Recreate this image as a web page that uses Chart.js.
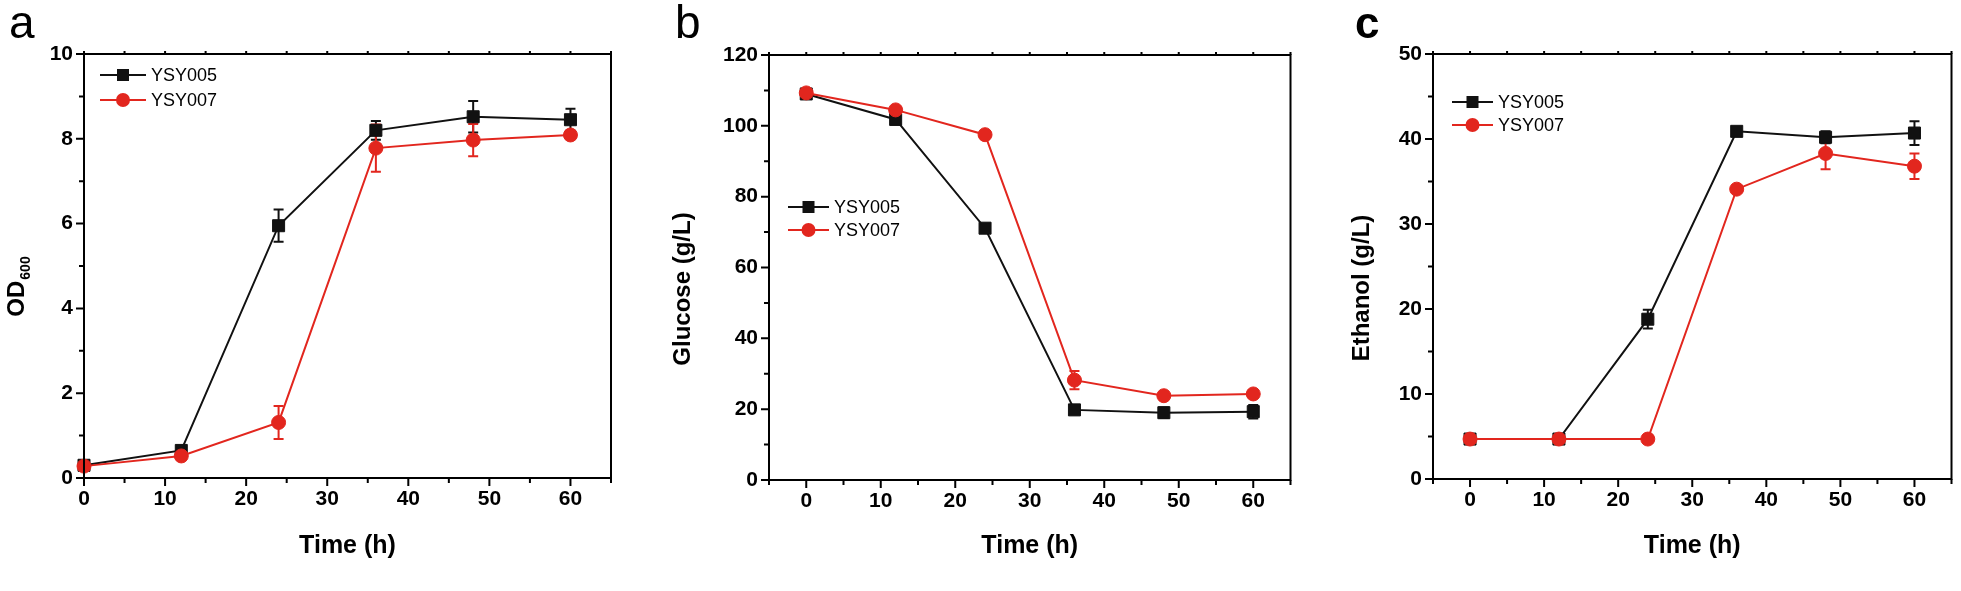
<!DOCTYPE html>
<html>
<head>
<meta charset="utf-8">
<script src="https://cdn.jsdelivr.net/npm/chart.js@4.4.0/dist/chart.umd.min.js"></script>
<style>
  html, body { margin: 0; padding: 0; background: #fff; }
  #wrap { position: relative; width: 1961px; height: 591px; overflow: hidden; }
  canvas { position: absolute; top: 0; }
</style>
</head>
<body>
<div id="wrap">
  <canvas id="chartA" width="640" height="591" style="left:0px"></canvas>
  <canvas id="chartB" width="660" height="591" style="left:640px"></canvas>
  <canvas id="chartC" width="661" height="591" style="left:1300px"></canvas>
</div>
<script>
const timeH = [0, 12, 24, 36, 48, 60];
const strainNames = ['YSY005', 'YSY007'];

// OD600
const od005 = [0.30, 0.65, 5.95, 8.20, 8.52, 8.45];
const od005Err = [0.05, 0.05, 0.38, 0.22, 0.37, 0.26];
const od007 = [0.28, 0.52, 1.31, 7.78, 7.97, 8.09];
const od007Err = [0.05, 0.05, 0.39, 0.56, 0.38, 0.10];

// glucose g/L
const glc005 = [109.0, 101.8, 71.1, 19.8, 19.0, 19.3];
const glc005Err = [0.8, 0.8, 0.8, 0.8, 1.5, 1.9];
const glc007 = [109.3, 104.5, 97.5, 28.2, 23.8, 24.3];
const glc007Err = [0.8, 0.8, 0.8, 2.6, 1.0, 1.0];

// ethanol g/L
const eth005 = [4.7, 4.7, 18.8, 40.9, 40.2, 40.7];
const eth005Err = [0.2, 0.2, 1.1, 0.3, 0.7, 1.4];
const eth007 = [4.7, 4.7, 4.7, 34.1, 38.3, 36.8];
const eth007Err = [0.2, 0.2, 0.2, 0.3, 1.85, 1.5];

const xMajor = [0, 10, 20, 30, 40, 50, 60];
const xMinor = [-5, 5, 15, 25, 35, 45, 55, 65];
const odMajor = [0, 2, 4, 6, 8, 10];
const odMinor = [1, 3, 5, 7, 9];
const glcMajor = [0, 20, 40, 60, 80, 100, 120];
const glcMinor = [10, 30, 50, 70, 90, 110];
const ethMajor = [0, 10, 20, 30, 40, 50];
const ethMinor = [5, 15, 25, 35, 45];

const BLACK = '#111111';
const RED = '#e2261e';
const FONT = "'Liberation Sans', Arial, Helvetica, sans-serif";

// error bars under the markers, frame/ticks/titles/legend on top
const originStyle = {
  id: 'originStyle',
  beforeDatasetsDraw(chart) {
    const ctx = chart.ctx, xs = chart.scales.x, ys = chart.scales.y;
    chart.data.datasets.forEach(ds => {
      if (!ds.errors) return;
      ctx.save();
      ctx.strokeStyle = ds.borderColor;
      ctx.lineWidth = 2;
      ds.data.forEach((p, i) => {
        const e = ds.errors[i];
        if (!e) return;
        const px = xs.getPixelForValue(p.x);
        const top = ys.getPixelForValue(p.y + e), bot = ys.getPixelForValue(p.y - e);
        ctx.beginPath();
        ctx.moveTo(px, top); ctx.lineTo(px, bot);
        ctx.moveTo(px - 5, top); ctx.lineTo(px + 5, top);
        ctx.moveTo(px - 5, bot); ctx.lineTo(px + 5, bot);
        ctx.stroke();
      });
      ctx.restore();
    });
  },
  afterDraw(chart, args, opts) {
    const ctx = chart.ctx, a = chart.chartArea, xs = chart.scales.x, ys = chart.scales.y;
    ctx.save();
    ctx.strokeStyle = '#000';
    ctx.lineWidth = 2;
    ctx.strokeRect(a.left, a.top, a.right - a.left, a.bottom - a.top);
    ctx.beginPath();
    const inX = v => v >= xs.min && v <= xs.max;
    const inY = v => v >= ys.min && v <= ys.max;
    opts.xMajor.filter(inX).forEach(v => {
      const px = xs.getPixelForValue(v);
      ctx.moveTo(px, a.bottom); ctx.lineTo(px, a.bottom + 8);
      ctx.moveTo(px, a.top); ctx.lineTo(px, a.top - 3);
    });
    opts.xMinor.filter(inX).forEach(v => {
      const px = xs.getPixelForValue(v);
      ctx.moveTo(px, a.bottom); ctx.lineTo(px, a.bottom + 5);
      ctx.moveTo(px, a.top); ctx.lineTo(px, a.top - 3);
    });
    opts.yMajor.filter(inY).forEach(v => {
      const py = ys.getPixelForValue(v);
      ctx.moveTo(a.left, py); ctx.lineTo(a.left - 8, py);
    });
    opts.yMinor.filter(inY).forEach(v => {
      const py = ys.getPixelForValue(v);
      ctx.moveTo(a.left, py); ctx.lineTo(a.left - 5, py);
    });
    ctx.stroke();

    // y title (rotated), optional subscript
    const t = opts.yTitle;
    ctx.fillStyle = '#000';
    ctx.translate(t.x, t.y);
    ctx.rotate(-Math.PI / 2);
    ctx.textBaseline = 'middle';
    ctx.textAlign = 'left';
    ctx.font = 'bold 24px ' + FONT;
    const w1 = ctx.measureText(t.text).width;
    let w2 = 0;
    if (t.sub) { ctx.font = 'bold 14px ' + FONT; w2 = ctx.measureText(t.sub).width; }
    const start = -(w1 + w2) / 2;
    ctx.font = 'bold 24px ' + FONT;
    ctx.fillText(t.text, start, 0);
    if (t.sub) { ctx.font = 'bold 14px ' + FONT; ctx.fillText(t.sub, start + w1 + 1, 9); }
    ctx.setTransform(1, 0, 0, 1, 0, 0);

    // legend: line + marker + name
    const lg = opts.legend;
    [chart.data.datasets[0], chart.data.datasets[1]].forEach((ds, i) => {
      const y = lg.rows[i];
      ctx.strokeStyle = ds.borderColor;
      ctx.lineWidth = 2;
      ctx.beginPath(); ctx.moveTo(lg.x0, y); ctx.lineTo(lg.x1, y); ctx.stroke();
      const mx = (lg.x0 + lg.x1) / 2;
      ctx.fillStyle = ds.pointBackgroundColor;
      if (ds.pointStyle === 'rect') {
        ctx.fillRect(mx - 6, y - 6, 12, 12);
      } else {
        ctx.beginPath(); ctx.arc(mx, y, 7, 0, Math.PI * 2); ctx.fill();
      }
      ctx.fillStyle = '#000';
      ctx.font = '18px ' + FONT;
      ctx.textAlign = 'left';
      ctx.textBaseline = 'middle';
      ctx.fillText(ds.label, lg.x1 + 5, y + 1);
    });

    // panel letter
    const pl = opts.panel;
    ctx.font = pl.font;
    ctx.textBaseline = 'alphabetic';
    ctx.fillStyle = '#000';
    ctx.fillText(pl.text, pl.x, pl.y);
    ctx.restore();
  }
};

function makeSeries(label, ys, errs, color, style, order) {
  return {
    label,
    data: timeH.map((t, i) => ({ x: t, y: ys[i] })),
    errors: errs,
    borderColor: color,
    backgroundColor: color,
    pointBackgroundColor: color,
    pointBorderColor: color,
    pointBorderWidth: 1,
    pointStyle: style,
    pointRadius: style === 'rect' ? 8.5 : 7,
    borderWidth: 2,
    tension: 0,
    clip: false,
    order
  };
}

function makePanel(id, p) {
  return new Chart(document.getElementById(id), {
    type: 'line',
    data: {
      datasets: [
        makeSeries(strainNames[0], p.s1, p.e1, BLACK, 'rect', 1),
        makeSeries(strainNames[1], p.s2, p.e2, RED, 'circle', 0)
      ]
    },
    options: {
      responsive: false,
      animation: false,
      events: [],
      layout: { padding: { top: p.top, right: p.right, left: 0, bottom: 0 } },
      plugins: {
        legend: { display: false },
        tooltip: { enabled: false },
        originStyle: {
          xMajor, xMinor, yMajor: p.yMajor, yMinor: p.yMinor,
          yTitle: p.yTitle, legend: p.legend, panel: p.panel
        }
      },
      scales: {
        x: {
          type: 'linear', min: p.xMin, max: 65,
          afterBuildTicks: s => { s.ticks = xMajor.map(v => ({ value: v })); },
          afterFit: s => { s.height = 591 - p.bottom; },
          grid: { display: false, drawTicks: false },
          border: { display: false },
          ticks: { color: '#000', padding: 9, maxRotation: 0, font: { family: FONT, size: 21, weight: 'bold' } },
          title: { display: true, text: 'Time (h)', color: '#000', padding: { top: 0, bottom: 30 }, font: { family: FONT, size: 25, weight: 'bold' } }
        },
        y: {
          type: 'linear', min: p.yMin, max: p.yMax,
          afterBuildTicks: s => { s.ticks = p.yMajor.map(v => ({ value: v })); },
          afterFit: s => { s.width = p.left; },
          grid: { display: false, drawTicks: false },
          border: { display: false },
          ticks: { color: '#000', padding: 11, font: { family: FONT, size: 21, weight: 'bold' } }
        }
      }
    },
    plugins: [originStyle]
  });
}

makePanel('chartA', {
  s1: od005, e1: od005Err, s2: od007, e2: od007Err,
  xMin: 0, yMin: 0, yMax: 10, yMajor: odMajor, yMinor: odMinor,
  left: 84, right: 29, top: 54, bottom: 478,
  yTitle: { text: 'OD', sub: '600', x: 17, y: 287 },
  legend: { x0: 100, x1: 146, rows: [75, 100] },
  panel: { text: 'a', x: 9, y: 38, font: '46px ' + FONT }
});

makePanel('chartB', {
  s1: glc005, e1: glc005Err, s2: glc007, e2: glc007Err,
  xMin: -5, yMin: 0, yMax: 120, yMajor: glcMajor, yMinor: glcMinor,
  left: 129, right: 6, top: 55, bottom: 480,
  yTitle: { text: 'Glucose (g/L)', x: 43, y: 289 },
  legend: { x0: 148, x1: 189, rows: [207, 230] },
  panel: { text: 'b', x: 35, y: 38, font: '46px ' + FONT }
});

makePanel('chartC', {
  s1: eth005, e1: eth005Err, s2: eth007, e2: eth007Err,
  xMin: -5, yMin: 0, yMax: 50, yMajor: ethMajor, yMinor: ethMinor,
  left: 133, right: 2, top: 54, bottom: 479,
  yTitle: { text: 'Ethanol (g/L)', x: 62, y: 288 },
  legend: { x0: 152, x1: 193, rows: [102, 125] },
  panel: { text: 'c', x: 55, y: 38, font: 'bold 44px ' + FONT }
});
</script>
</body>
</html>
